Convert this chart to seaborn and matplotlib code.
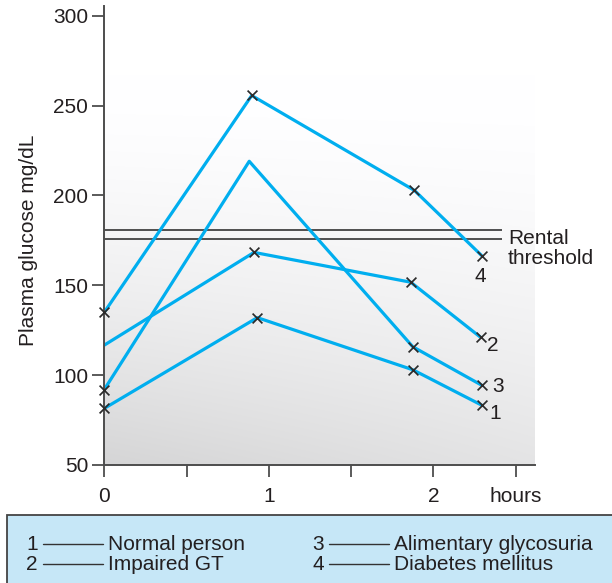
import numpy as np
import pandas as pd
import matplotlib
matplotlib.use("Agg")
import matplotlib.pyplot as plt
import seaborn as sns
from matplotlib.patches import Rectangle
from matplotlib.lines import Line2D

sns.set_theme(style="white")
plt.rcParams["font.family"] = ["Liberation Sans", "DejaVu Sans"]

# Glucose tolerance curves: hours after the glucose load and plasma glucose (mg/dL)
normal_t = [0, 0.93, 1.875, 2.294]
normal_g = [81.5, 132, 103, 83.3]
impaired_t = [0, 0.91, 1.863, 2.288]
impaired_g = [116.7, 168.3, 151.7, 121]
alimentary_t = [0, 0.881, 1.875, 2.294]
alimentary_g = [92, 219, 115.8, 94.4]
diabetes_t = [0, 0.896, 1.885, 2.294]
diabetes_g = [135, 255.6, 202.8, 166.5]

# readings that carry a cross
normal_mark = [True, True, True, True]
impaired_mark = [False, True, True, True]
alimentary_mark = [True, False, True, True]
diabetes_mark = [True, True, True, True]

curve_ids = ["1", "2", "3", "4"]
curve_names = ["Normal person", "Impaired GT", "Alimentary glycosuria", "Diabetes mellitus"]

threshold_band = [176, 181]

y_ticks = [50, 100, 150, 200, 250, 300]
x_ticks = [0, 0.5, 1, 1.5, 2, 2.5]
x_tick_labels = ["0", "", "1", "", "2", "hours"]

BLUE = "#00aeef"
INK = "#231f20"
AXIS = "#4d4d4d"

frames = []
for cid, t, g, m in zip(curve_ids,
                        [normal_t, impaired_t, alimentary_t, diabetes_t],
                        [normal_g, impaired_g, alimentary_g, diabetes_g],
                        [normal_mark, impaired_mark, alimentary_mark, diabetes_mark]):
    frames.append(pd.DataFrame({"curve": cid, "hours": t, "glucose": g, "marked": m}))
df = pd.concat(frames, ignore_index=True)

W, H = 612, 583
fig = plt.figure(figsize=(W / 100, H / 100), dpi=100)
x0, x1, ytop, ybot = 104.3, 535, 6, 465
ax = fig.add_axes([x0 / W, (H - ybot) / H, (x1 - x0) / W, (ybot - ytop) / H])

XMAX, YMIN, YMAX = 2.618, 50, 305.4

# shaded backdrop: white in the upper part, fading to grey towards the lower left
u = np.linspace(0, 1, 400)
depth = np.linspace(0, ybot - ytop, 400)          # pixels below the top of the axes
U, D = np.meshgrid(u, depth)
s = np.clip((D - 70) / (ybot - ytop - 70), 0, 1) ** 1.6
grey = 1 - 0.165 * s * (1 - 0.36 * U)
rgb = np.dstack([grey, grey, grey * 1.004]).clip(0, 1)
ax.imshow(rgb, origin="upper", extent=(0, XMAX, YMIN, YMAX),
          aspect="auto", interpolation="bilinear", zorder=0)

sns.lineplot(data=df, x="hours", y="glucose", units="curve", estimator=None,
             sort=False, color=BLUE, linewidth=2.3, ax=ax, zorder=2, legend=False)
sns.scatterplot(data=df[df["marked"]], x="hours", y="glucose", marker="x",
                color="#2b2b2b", s=50, linewidth=1.25, ax=ax, zorder=3,
                legend=False, clip_on=False)

# renal threshold band
ax.hlines(threshold_band, 0, 2.418, color="#333333", linewidth=1.2, zorder=1)
ax.text(2.454, 170.5, "Rental\nthreshold", ha="left", va="center", fontsize=15,
        color=INK, linespacing=1.12, clip_on=False)

# curve numbers next to the last reading
offsets = {"1": (13, -8), "2": (12, -8), "3": (16, -1), "4": (-1, -21)}
for cid in curve_ids:
    last = df[df["curve"] == cid].iloc[-1]
    ax.annotate(cid, (last["hours"], last["glucose"]), xytext=offsets[cid],
                textcoords="offset pixels", ha="center", va="center",
                fontsize=15, color=INK, annotation_clip=False)

ax.set_xlim(0, XMAX)
ax.set_ylim(YMIN, YMAX)
ax.set_xticks(x_ticks)
ax.set_xticklabels(x_tick_labels)
ax.set_yticks(y_ticks)
ax.set_xlabel("")
ax.set_ylabel("")
for side in ["top", "right"]:
    ax.spines[side].set_visible(False)
for side in ["left", "bottom"]:
    ax.spines[side].set_color(AXIS)
    ax.spines[side].set_linewidth(1.4)
ax.tick_params(axis="both", bottom=True, left=True, direction="out", length=8.6,
               width=1.3, color=AXIS, labelsize=15, labelcolor=INK)
ax.tick_params(axis="x", pad=7)
ax.tick_params(axis="y", pad=3)

fig.text(29 / W, (H - 240) / H, "Plasma glucose mg/dL", rotation=90,
         ha="center", va="center", fontsize=15, color=INK)

# key panel
fig.patches.append(Rectangle((6.7 / W, -0.01), 1.0, (H - 515) / H + 0.01,
                             transform=fig.transFigure, facecolor="#c6e7f7",
                             edgecolor="#444444", linewidth=1.3, zorder=0))
rows = [544, 564]
cols = [(31.7, 43, 103, 108), (318, 329, 389, 394)]
for i, (cid, name) in enumerate(zip(curve_ids, curve_names)):
    cx, d0, d1, tx = cols[i // 2]
    yy = (H - rows[i % 2]) / H
    fig.text(cx / W, yy, cid, ha="center", va="center", fontsize=15, color=INK)
    fig.lines.append(Line2D([d0 / W, d1 / W], [yy, yy], transform=fig.transFigure,
                            color="#333333", linewidth=1.0))
    fig.text(tx / W, yy, name, ha="left", va="center", fontsize=15, color=INK)

fig.savefig("out.png", dpi=100)
